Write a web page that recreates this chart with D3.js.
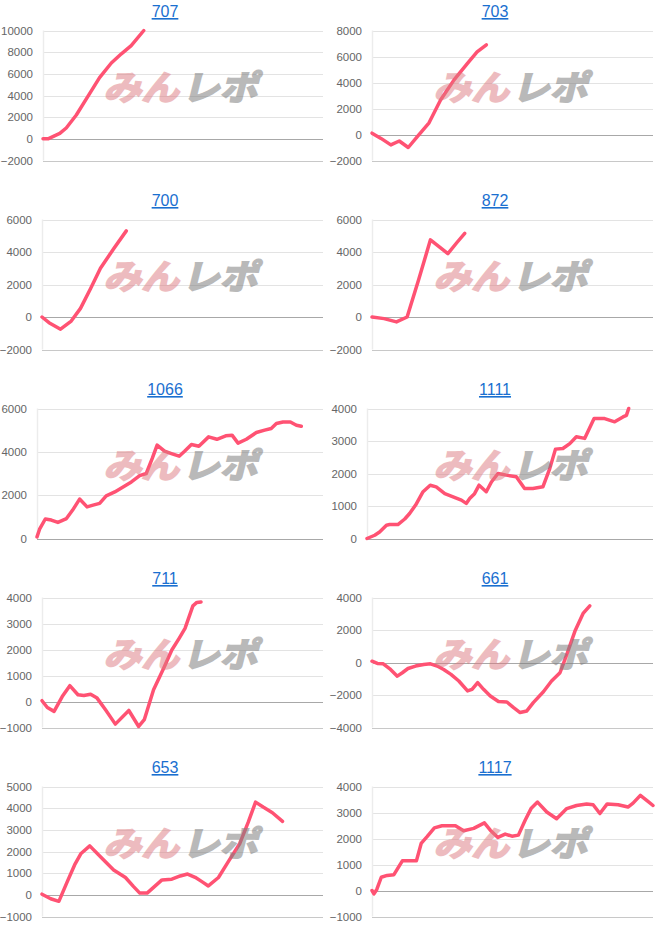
<!DOCTYPE html>
<html>
<head>
<meta charset="utf-8">
<script src="https://cdn.jsdelivr.net/npm/d3@7"></script>
<style>
  body { margin: 0; background: #fff; }
  svg { display: block; }
</style>
</head>
<body>
<div id="chart"></div>
<script>
// Titles of the ten machines
const titles = ["707", "703", "700", "872", "1066", "1111", "711", "661", "653", "1117"];

// Y axis settings for each panel
const yMin  = [-2000, -2000, -2000, -2000, 0,    0,    -1000, -4000, -1000, -1000];
const yMax  = [10000, 8000,  6000,  6000,  6000, 4000, 4000,  4000,  5000,  4000];
const yStep = [2000,  2000,  2000,  2000,  2000, 1000, 1000,  2000,  1000,  1000];

// Series: [progress (0-100), balance]
const s707 = [[0,0],[1.8,0],[6,500],[8.3,1000],[11.9,2200],[16.7,4200],[20.2,5650],[24.4,7000],[28,7850],[31.5,8600],[36,10000]];
const s703 = [[0,100],[3.2,-300],[6.7,-800],[9.7,-500],[12.9,-1000],[16.2,-150],[20.3,900],[24.4,2650],[29.2,4200],[33.9,5450],[37.4,6350],[40.7,6900]];
const s700 = [[0,0],[2.5,-350],[6.6,-750],[10.4,-250],[13.7,530],[17.3,1750],[20.8,3000],[25.5,4200],[30,5300]];
const s872 = [[0,0],[4.3,-100],[8.7,-300],[12.5,0],[16.7,2350],[20.8,4750],[27,3900],[30.3,4600],[33,5150]];
const s1066 = [[0,75],[0.9,430],[2.9,900],[5,850],[7.3,740],[10.3,920],[12.4,1300],[14.9,1820],[17.5,1460],[19.6,1540],
  [21.9,1620],[24.2,1970],[27.2,2150],[30.1,2380],[33,2610],[35.9,2900],[38.2,3000],[40.3,3700],[42,4310],[44.6,4030],
  [47,3920],[49.7,3800],[51.6,4030],[54,4340],[56.6,4260],[60,4690],[62.9,4580],[66,4740],[68.2,4770],[70.3,4400],
  [73.2,4580],[76.7,4890],[79.6,5000],[81.9,5080],[83.7,5310],[86,5380],[88.6,5380],[90.7,5230],[92.4,5180]];
const s1111 = [[0,0],[2.7,100],[4.4,200],[6.8,410],[7.9,430],[10.8,430],[13.2,600],[14.9,770],[17,1030],[19.6,1440],
  [22.1,1640],[24.2,1590],[27.2,1380],[30.1,1280],[33,1180],[34.7,1080],[35.9,1230],[37.6,1380],[39.2,1640],[41.7,1440],
  [43.5,1740],[45.8,2000],[48.7,1950],[52.2,1900],[55.1,1540],[58,1540],[61.5,1590],[63.9,2150],[65.9,2750],[68.5,2770],
  [70.9,2920],[73.2,3130],[76.1,3080],[79.4,3690],[83.1,3690],[86.6,3590],[89.5,3740],[90.7,3790],[91.5,4000]];
const s711 = [[0,30],[1.9,-230],[4.3,-380],[7.2,190],[9.9,610],[12.8,260],[14.9,230],[17.3,280],[19.6,130],[22.6,-320],
  [26.1,-870],[30.9,-345],[34.4,-960],[36.4,-700],[39.7,450],[43.3,1280],[46.2,1980],[48.8,2430],[50.9,2810],[53.7,3680],
  [55.1,3810],[56.6,3830]];
const s661 = [[0,80],[1.9,-60],[4,-80],[6.6,-430],[9,-840],[10.8,-630],[12.8,-370],[15.5,-220],[18.4,-120],[20.8,-80],
  [23.2,-220],[25.5,-430],[28.1,-730],[30.9,-1140],[34,-1750],[35.6,-1650],[37.6,-1240],[39.7,-1650],[42.1,-2060],[45,-2400],
  [48,-2430],[50.4,-2780],[52.7,-3080],[55.1,-2980],[57.4,-2470],[61,-1800],[63.9,-1140],[66.9,-630],[69.3,490],[72.2,1920],
  [75.2,3040],[77.5,3490]];
const s653 = [[0,30],[3.1,-180],[6,-300],[9,610],[11.6,1380],[13.9,1910],[17,2260],[20.8,1760],[25.5,1150],[29.7,800],
  [32.6,380],[34.8,80],[37.4,80],[40,380],[42.7,690],[46.2,720],[49.2,870],[51.8,960],[54.5,810],[56.9,610],
  [59.2,410],[62.8,800],[66.3,1530],[70.4,2370],[73.4,3360],[76,4280],[78.7,4050],[82,3790],[85.6,3390]];
const s1117 = [[0,0],[0.7,-130],[1.7,40],[3.3,510],[5.4,580],[7.8,610],[10.8,1140],[13.7,1140],[15.8,1140],[17.5,1810],
  [19.6,2070],[22.2,2410],[24.9,2490],[29.7,2490],[32.6,2300],[36.2,2390],[40,2600],[42.1,2320],[44.8,2040],[47.4,2170],
  [49.8,2090],[52.1,2130],[54.5,2700],[56.6,3150],[58.9,3400],[62.2,3020],[65.7,2760],[69.3,3150],[72.8,3270],[76.4,3330],
  [78.7,3300],[81.1,2960],[83.7,3330],[87.6,3300],[91.1,3210],[92.9,3360],[95.5,3660],[98.2,3430],[100,3270]];

const series = [s707, s703, s700, s872, s1066, s1111, s711, s661, s653, s1117];

// Layout
const W = 660, H = 945;
const panelW = 330, panelH = 189;
const plotTop = 30.5, plotBottom = 160.5, plotRight = 323;

const svg = d3.select("#chart")
  .append("svg")
    .attr("width", W)
    .attr("height", H);

titles.forEach(function (title, i) {
  const col = i % 2, row = Math.floor(i / 2);
  const g = svg.append("g")
    .attr("transform", "translate(" + (col * panelW) + "," + (row * panelH) + ")");

  // left edge depends on tick label width, like the original
  const hasNeg = yMin[i] < 0;
  const wide = yMax[i] >= 10000;
  const left = 37 + (hasNeg ? 5 : 0) + (wide ? 1 : 0);

  const x = d3.scaleLinear().domain([0, 100]).range([left, plotRight]);
  const y = d3.scaleLinear().domain([yMin[i], yMax[i]]).range([plotBottom, plotTop]);
  const ticks = d3.range(yMin[i], yMax[i] + 1, yStep[i]);

  // Title
  g.append("text")
    .attr("x", panelW / 2)
    .attr("y", 17)
    .attr("text-anchor", "middle")
    .style("font-family", "Arial, 'Liberation Sans', sans-serif")
    .style("font-size", "16px")
    .style("fill", "#1a6fd0")
    .style("text-decoration", "underline")
    .text(title);

  // Gridlines
  g.append("g").selectAll("line")
    .data(ticks)
    .join("line")
      .attr("x1", left)
      .attr("x2", plotRight)
      .attr("y1", d => Math.round(y(d)) + 0.5)
      .attr("y2", d => Math.round(y(d)) + 0.5)
      .attr("stroke", d => d === 0 ? "#a8a8a8" : (d === yMin[i] ? "#c8c8c8" : "#e3e3e3"))
      .attr("stroke-width", 1);

  // faint vertical line at the start
  g.append("line")
    .attr("x1", left + 0.5).attr("x2", left + 0.5)
    .attr("y1", plotTop).attr("y2", plotBottom)
    .attr("stroke", "#ececec")
    .attr("stroke-width", 1.5);

  // Y axis labels
  const yAxis = d3.axisLeft(y).tickValues(ticks).tickSize(0).tickPadding(10).tickFormat(d3.format("d"));
  g.append("g")
    .attr("transform", "translate(" + left + ",0)")
    .call(yAxis)
    .call(a => a.select(".domain").remove())
    .selectAll("text")
      .style("font-family", "Arial, 'Liberation Sans', sans-serif")
      .style("font-size", "11.5px")
      .style("fill", "#666");

  // Line
  g.append("path")
    .datum(series[i])
    .attr("fill", "none")
    .attr("stroke", "#ff5273")
    .attr("stroke-width", 3.5)
    .attr("stroke-linejoin", "round")
    .attr("stroke-linecap", "round")
    .attr("d", d3.line()
      .x(function (d) { return x(d[0]) })
      .y(function (d) { return y(d[1]) })
    );

  // Watermark
  const wm = g.append("g")
    .attr("transform", "translate(180,100) skewX(-14) scale(1.05,0.95)");
  wm.append("g")
    .attr("opacity", 0.5)
    .append("text")
      .attr("x", -1)
      .attr("text-anchor", "end")
      .style("font-family", "'Noto Sans CJK JP', sans-serif")
      .style("font-weight", "700")
      .style("font-size", "36px")
      .style("fill", "#dd7a80")
      .style("stroke", "#dd7a80")
      .style("stroke-width", 2)
      .text("みん");
  wm.append("g")
    .attr("opacity", 0.55)
    .append("text")
      .attr("x", 2)
      .style("font-family", "'Noto Sans CJK JP', sans-serif")
      .style("font-weight", "700")
      .style("font-size", "36px")
      .style("fill", "#808080")
      .style("stroke", "#808080")
      .style("stroke-width", 2)
      .text("レポ");
});
</script>
</body>
</html>
